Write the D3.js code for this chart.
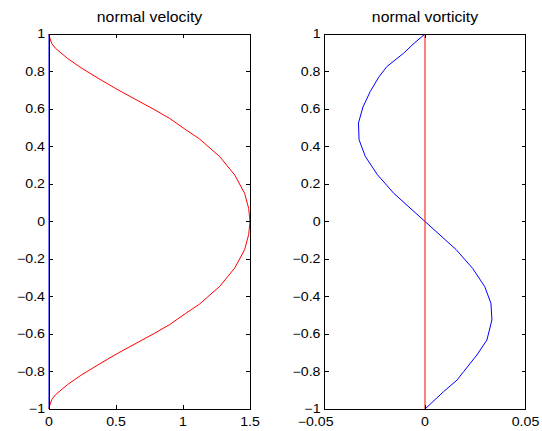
<!DOCTYPE html>
<html><head><meta charset="utf-8">
<script src="https://cdn.jsdelivr.net/npm/d3@7"></script>
<style>
html,body{margin:0;padding:0;background:#fff;}
svg{display:block;}
text{font-family:"Liberation Sans",Arial,Helvetica,sans-serif;fill:#000;}
</style></head>
<body>
<script>
// ---- data ----
const velY = [1, 0.995, 0.977, 0.95, 0.924, 0.87, 0.817, 0.755, 0.70, 0.60, 0.55, 0.49, 0.44, 0.346, 0.248, 0.15, 0.07, 0,
              -0.07, -0.15, -0.248, -0.346, -0.44, -0.49, -0.55, -0.60, -0.70, -0.755, -0.817, -0.87, -0.924, -0.95, -0.977, -0.995, -1];
const velReal = [0, 0.001, 0.007, 0.02, 0.048, 0.138, 0.245, 0.388, 0.52, 0.778, 0.90, 1.02, 1.124, 1.274, 1.386, 1.46, 1.49, 1.5,
                 1.49, 1.46, 1.386, 1.274, 1.124, 1.02, 0.90, 0.778, 0.52, 0.388, 0.245, 0.138, 0.048, 0.02, 0.007, 0.001, 0];
const velImag = [0, 0];
const velImagY = [1, -1];

const vorY = [1, 0.95, 0.897, 0.826, 0.77, 0.694, 0.61, 0.525, 0.436, 0.347, 0.25, 0.15, 0,
              -0.15, -0.25, -0.347, -0.436, -0.525, -0.632, -0.712, -0.801, -0.845, -0.908, -0.955, -1];
const vorImag = [0, -0.0055, -0.0107, -0.019, -0.0230, -0.0272, -0.0309, -0.0331, -0.0328, -0.0297, -0.0237, -0.0155, 0,
                 0.0155, 0.0237, 0.0297, 0.0328, 0.0333, 0.0308, 0.0258, 0.0192, 0.016, 0.0092, 0.0045, 0];
const vorReal = [0, 0];
const vorRealY = [1, -1];

const yTicks = [-1, -0.8, -0.6, -0.4, -0.2, 0, 0.2, 0.4, 0.6, 0.8, 1];
const velXTicks = [0, 0.5, 1, 1.5];
const vorXTicks = [-0.05, 0, 0.05];
const titles = ["normal velocity", "normal vorticity"];

// ---- drawing ----
const W = 542, H = 431;
const svg = d3.select("body").append("svg").attr("width", W).attr("height", H);
const y = d3.scaleLinear().domain([-1, 1]).range([409, 34]);
const xL = d3.scaleLinear().domain([0, 1.5]).range([49, 250]);
const xR = d3.scaleLinear().domain([-0.05, 0.05]).range([324.5, 525.5]);
const SX = 1.18;
const fmt = v => { const s = String(+v.toFixed(4)); return s.replace("-", "\u2212"); };

function label(g, x, yy, str, anchor, size, sx) {
  g.append("text")
    .attr("transform", `translate(${x},${yy}) scale(${sx},1)`)
    .attr("text-anchor", anchor)
    .attr("font-size", size)
    .text(str);
}

function panel(x, xTicks, title, lines) {
  const g = svg.append("g");
  const [x0, x1] = x.range();
  const [y0, y1] = [y(-1), y(1)];
  const line = d3.line();
  lines.forEach(l => {
    g.append("path")
      .attr("d", line(l.xs.map((v, i) => [x(v), y(l.ys[i])])))
      .attr("fill", "none").attr("stroke", l.color).attr("stroke-width", 1);
  });
  const fr = g.append("g").attr("shape-rendering", "crispEdges").attr("stroke", "#000").attr("stroke-width", 1);
  fr.append("rect").attr("x", x0).attr("y", y1).attr("width", x1 - x0).attr("height", y0 - y1).attr("fill", "none");
  const TL = 4;
  yTicks.forEach(t => {
    fr.append("line").attr("x1", x0).attr("x2", x0 + TL).attr("y1", y(t)).attr("y2", y(t));
    fr.append("line").attr("x1", x1).attr("x2", x1 - TL).attr("y1", y(t)).attr("y2", y(t));
    label(g, x0 - 4, y(t) + 4.3, fmt(t), "end", 12, SX);
  });
  xTicks.forEach(t => {
    fr.append("line").attr("x1", x(t)).attr("x2", x(t)).attr("y1", y0).attr("y2", y0 - TL);
    fr.append("line").attr("x1", x(t)).attr("x2", x(t)).attr("y1", y1).attr("y2", y1 + TL);
    if (t < 0) label(g, x(t) + 9, 425.6, fmt(t), "end", 12, SX);
    else label(g, x(t), 425.6, fmt(t), "middle", 12, SX);
  });
  label(g, (x0 + x1) / 2, 22, title, "middle", 14, 1.13);
}

panel(xL, velXTicks, titles[0], [
  {xs: velImag, ys: velImagY, color: "#0000ff"},
  {xs: velReal, ys: velY, color: "#ff0000"}
]);
panel(xR, vorXTicks, titles[1], [
  {xs: vorImag, ys: vorY, color: "#0000ff"},
  {xs: vorReal, ys: vorRealY, color: "#ff0000"}
]);
</script>
</body></html>
